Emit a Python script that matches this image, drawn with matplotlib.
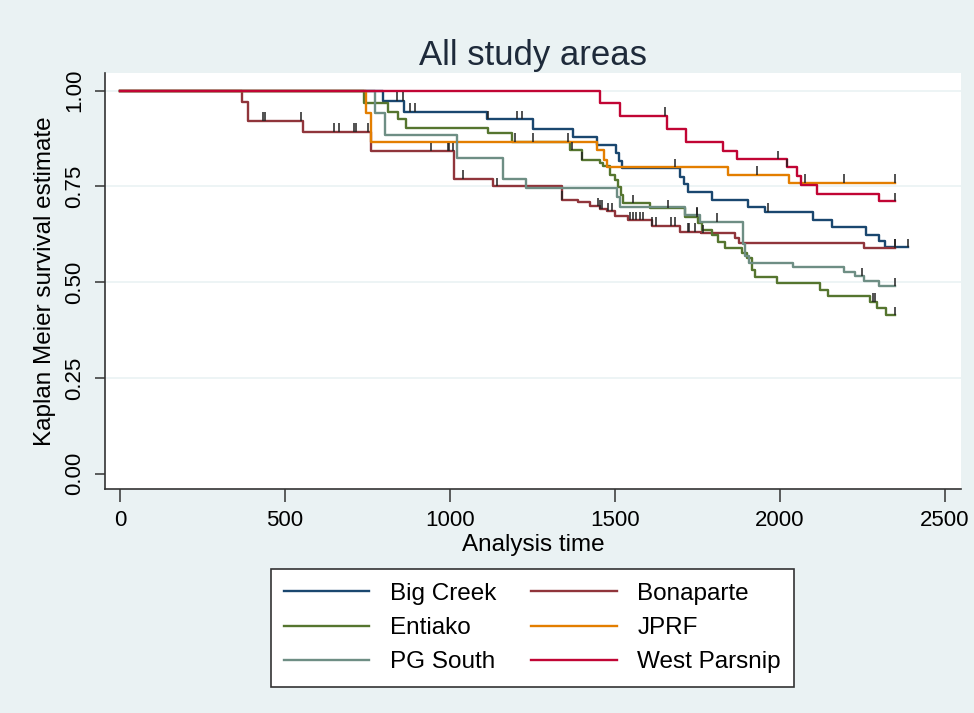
import matplotlib
matplotlib.use("Agg")
import matplotlib.pyplot as plt
import numpy as np

plt.rcParams["font.family"] = ["Liberation Sans", "DejaVu Sans"]

# Kaplan-Meier step curves per study area: (time, survival) and censor times
areas = ["Big Creek", "Bonaparte", "Entiako", "JPRF", "PG South", "West Parsnip"]
colors = ["#1a476f", "#90353b", "#55752f", "#e37e00", "#6e8e84", "#c10534"]

bc_t = [0, 797, 861, 1111, 1253, 1374, 1447, 1503, 1512, 1520, 1697, 1710, 1722,
        1793, 1904, 1955, 2101, 2157, 2261, 2300, 2320, 2388]
bc_s = [1.0, 0.974, 0.945, 0.925, 0.899, 0.878, 0.858, 0.837, 0.815, 0.797, 0.775,
        0.755, 0.736, 0.715, 0.697, 0.684, 0.662, 0.643, 0.623, 0.607, 0.591, 0.591]
bc_c = [838, 856, 878, 894, 1114, 1202, 1217, 1965, 2349, 2388]

bo_t = [0, 369, 388, 553, 759, 1012, 1131, 1338, 1389, 1424, 1455, 1475, 1500,
        1540, 1611, 1697, 1760, 1864, 1876, 2255, 2349]
bo_s = [1.0, 0.970, 0.922, 0.893, 0.842, 0.770, 0.751, 0.715, 0.708, 0.698, 0.692,
        0.685, 0.673, 0.662, 0.647, 0.632, 0.627, 0.615, 0.602, 0.590, 0.590]
bo_c = [432, 439, 548, 649, 662, 710, 715, 750, 943, 993, 998, 1010, 1040, 1141,
        1338, 1449, 1455, 1460, 1480, 1490, 1545, 1555, 1565, 1575, 1585, 1611,
        1625, 1671, 1681, 1720, 1725, 1742, 1768, 2349]

en_t = [0, 740, 811, 843, 865, 1114, 1188, 1364, 1399, 1455, 1465, 1485, 1500,
        1510, 1517, 1525, 1606, 1712, 1753, 1763, 1793, 1813, 1834, 1884, 1899,
        1915, 1925, 1990, 2122, 2147, 2274, 2295, 2322, 2349]
en_s = [1.0, 0.967, 0.945, 0.925, 0.903, 0.889, 0.867, 0.845, 0.819, 0.811, 0.802,
        0.780, 0.767, 0.749, 0.728, 0.706, 0.693, 0.671, 0.654, 0.636, 0.623, 0.606,
        0.589, 0.575, 0.562, 0.532, 0.514, 0.497, 0.480, 0.464, 0.449, 0.432, 0.414,
        0.414]
en_c = [1197, 1253, 1369, 1401, 1556, 1662, 1748, 2282, 2289, 2349]

jp_t = [0, 745, 759, 1445, 1467, 1475, 1844, 2028, 2349]
jp_s = [1.0, 0.941, 0.867, 0.845, 0.819, 0.800, 0.780, 0.760, 0.760]
jp_c = [1359, 1682, 1930, 2076, 2193, 2349]

pg_t = [0, 774, 803, 1020, 1160, 1230, 1505, 1515, 1712, 1758, 1889, 1895, 1905,
        2041, 2193, 2229, 2254, 2300, 2349]
pg_s = [1.0, 0.941, 0.884, 0.823, 0.770, 0.746, 0.723, 0.697, 0.675, 0.658, 0.600,
        0.567, 0.549, 0.540, 0.527, 0.516, 0.503, 0.490, 0.490]
pg_c = [1750, 1808, 2248, 2349]

wp_t = [0, 1455, 1514, 1657, 1715, 1827, 1869, 2023, 2053, 2065, 2113, 2299, 2349]
wp_s = [1.0, 0.967, 0.934, 0.899, 0.867, 0.843, 0.821, 0.800, 0.778, 0.754, 0.730,
        0.712, 0.712]
wp_c = [1652, 1995, 2023, 2349]

curves = [(bc_t, bc_s, bc_c), (bo_t, bo_s, bo_c), (en_t, en_s, en_c),
          (jp_t, jp_s, jp_c), (pg_t, pg_s, pg_c), (wp_t, wp_s, wp_c)]

bg = "#eaf2f3"
fig = plt.figure(figsize=(9.74, 7.13), dpi=100, facecolor=bg)
ax = fig.add_axes([0.1078, 0.3137, 0.8785, 0.5839])
ax.set_facecolor("white")

for yv in [0.25, 0.5, 0.75, 1.0]:
    ax.axhline(yv, color=bg, lw=1.2, zorder=0)

handles = []
for name, col, (t, s, c) in zip(areas, colors, curves):
    t = np.array(t, dtype=float)
    s = np.array(s, dtype=float)
    (h,) = ax.step(t, s, where="post", color=col, lw=1.7, label=name, zorder=2)
    handles.append(h)
    c = np.array(c, dtype=float)
    idx = np.searchsorted(t, c, side="right") - 1
    sc = s[idx]
    ax.vlines(c, sc, sc + 0.022, color="#222222", lw=1.1, zorder=3)

ax.set_xlim(-46, 2548)
ax.set_ylim(-0.041, 1.046)
ax.set_xticks([0, 500, 1000, 1500, 2000, 2500])
ax.set_yticks([0, 0.25, 0.5, 0.75, 1.0])
ax.set_yticklabels([f"{v:.2f}" for v in [0, 0.25, 0.5, 0.75, 1.0]],
                   rotation=90, va="center")
ax.tick_params(axis="x", labelsize=16, length=9, width=1.1, pad=6, color="#333333")
ax.tick_params(axis="y", labelsize=16, length=7, width=1.1, pad=7, color="#333333")

for side in ["top", "right"]:
    ax.spines[side].set_visible(False)
for side in ["left", "bottom"]:
    ax.spines[side].set_color("#333333")
    ax.spines[side].set_linewidth(1.2)

ax.set_xlabel("Analysis time", fontsize=17.5, labelpad=2)
ax.set_ylabel("Kaplan Meier survival estimate", fontsize=17.5, labelpad=6)
ax.set_title("All study areas", fontsize=25, color="#1e2a3a", pad=6)

# two columns filled row by row
order = [0, 2, 4, 1, 3, 5]
leg = fig.legend([handles[i] for i in order], [areas[i] for i in order],
                 loc="center", bbox_to_anchor=(0.5467, 0.1192), ncol=2,
                 fontsize=17.5, frameon=True, fancybox=False,
                 handlelength=3.5, handletextpad=0.85, columnspacing=1.45,
                 labelspacing=0.5, borderpad=0.55)
leg.get_frame().set_edgecolor("#333333")
leg.get_frame().set_linewidth(1.2)
leg.get_frame().set_facecolor("white")
leg.get_frame().set_alpha(1)
for ln in leg.get_lines():
    ln.set_linewidth(1.7)

fig.savefig("out.png", dpi=100, facecolor=bg)
